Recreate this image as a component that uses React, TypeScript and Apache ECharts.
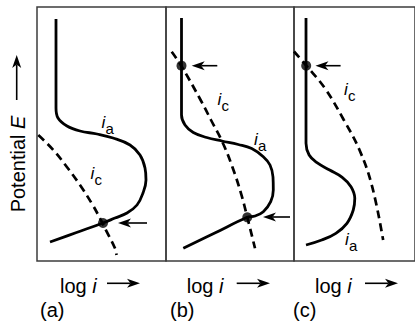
import { useEffect, useRef } from "react";
import * as echarts from "echarts";

// Data units: logI (x) and E (y) in arbitrary units per panel (x: 0..width, y: 0..254)
const aAnodic: number[][] = [[19, 242], [19, 153], [21, 143], [30, 135], [43, 130], [60, 127], [76, 123], [93, 116], [103, 106], [108, 93], [109, 81], [106, 68], [100, 56], [90, 48], [78, 43], [66, 38], [39.5, 28.5], [13, 19]];
const aCathodic: number[][] = [[1.3, 126], [16.3, 111], [29.7, 94.3], [43, 76], [54.7, 57.7], [63, 42.7], [69.7, 29.3], [78, 12.7], [79.5, 6]];
const aDots: number[][] = [[66, 38]];
const aArrows: number[][] = [[110, 38, 81, 38]];

const bAnodic: number[][] = [[15.5, 243], [15.5, 146], [19, 136], [27.3, 128.5], [40.7, 123.5], [56, 120], [72.3, 116.5], [85.7, 112.5], [97.3, 104.3], [104, 96], [107, 84], [107.3, 71], [104.7, 59.3], [97.3, 49.3], [89, 45], [81.3, 43.7], [49.3, 28.2], [17.3, 12.7]];
const bCathodic: number[][] = [[5.7, 209.3], [15.2, 195.3], [34.6, 161], [45, 141], [56.7, 118.3], [66.3, 94.3], [75, 67.7], [81.3, 43.7], [89, 12.7]];
const bDots: number[][] = [[15.5, 195.3], [81.3, 43.7]];
const bArrows: number[][] = [[51.3, 195.3, 25.7, 195.3], [124, 44, 97, 44]];

const cAnodic: number[][] = [[12.7, 243], [12.7, 117.7], [16, 106], [24.3, 98.3], [37.7, 91], [51, 83.7], [60.3, 74.3], [64.3, 62.7], [62.7, 51], [56, 37.7], [44.3, 27.7], [29.3, 21], [12.7, 16]];
const cCathodic: number[][] = [[0, 209.5], [13, 195.3], [32.7, 172.7], [52.7, 141], [69.3, 111], [82.7, 74.3], [94.3, 21]];
const cDots: number[][] = [[12.9, 195.3]];
const cArrows: number[][] = [[49.3, 195.3, 22.7, 195.3]];

const panelLabels = ["(a)", "(b)", "(c)"];
const xTitle = "log ";
const xTitleItalic = "i";
const yTitle = "Potential ";
const yTitleItalic = "E";

const FONT = "'Liberation Sans', Arial, Helvetica, sans-serif";

const panels = [
  { left: 37, width: 129, anodic: aAnodic, cathodic: aCathodic, dots: aDots, arrows: aArrows },
  { left: 166, width: 128, anodic: bAnodic, cathodic: bCathodic, dots: bDots, arrows: bArrows },
  { left: 294, width: 128, anodic: cAnodic, cathodic: cCathodic, dots: cDots, arrows: cArrows },
];

function arrowEls(x1: number, y1: number, x2: number, y2: number, lw = 1.5, L = 12, Wd = 4.5, N = 3.5) {
  const dx = x2 - x1, dy = y2 - y1;
  const len = Math.hypot(dx, dy) || 1;
  const ux = dx / len, uy = dy / len;
  const nx = -uy, ny = ux;
  const bx = x2 - ux * L, by = y2 - uy * L;
  const notch = [x2 - ux * (L - N), y2 - uy * (L - N)];
  return [
    { type: "line", shape: { x1, y1, x2: notch[0], y2: notch[1] }, style: { stroke: "#000", lineWidth: lw } },
    {
      type: "polygon",
      shape: { points: [[x2, y2], [bx + nx * Wd, by + ny * Wd], notch, [bx - nx * Wd, by - ny * Wd]] },
      style: { fill: "#000", stroke: "none" },
    },
  ];
}

function txt(x: number, baseline: number, text: string, size: number, italic: boolean) {
  return {
    type: "text",
    x,
    y: baseline - size * 0.35,
    style: {
      text,
      fontSize: size,
      fontFamily: FONT,
      fontStyle: italic ? "italic" : "normal",
      fill: "#000",
      align: "left",
      textAlign: "left",
      verticalAlign: "middle",
      textVerticalAlign: "middle",
    },
  };
}

function subLabel(x: number, baseline: number, sub: string) {
  return [txt(x, baseline, "i", 17, true), txt(x + 4, baseline + 5.7, sub, 15, false)];
}

const logX = [60, 186.7, 315];
const logArrowX = [[107, 140], [236.7, 270], [365, 398]];
const panelLabelX = [40, 170, 293];

export default function App() {
  const ref = useRef<HTMLDivElement>(null);
  useEffect(() => {
    const chart = echarts.init(ref.current!, null, { renderer: "svg" });
    const grid: any[] = [];
    const xAxis: any[] = [];
    const yAxis: any[] = [];
    const series: any[] = [];
    panels.forEach((p, i) => {
      grid.push({ left: p.left, top: 7, width: p.width, height: 254, show: true, borderColor: "#3c3c3c", borderWidth: 1.5, backgroundColor: "transparent" });
      xAxis.push({ type: "value", gridIndex: i, min: 0, max: p.width, show: false });
      yAxis.push({ type: "value", gridIndex: i, min: 0, max: 254, show: false });
      series.push({
        type: "line", xAxisIndex: i, yAxisIndex: i, data: p.anodic, smooth: 0.4, symbol: "none",
        lineStyle: { color: "#000", width: 2.8 }, z: 3,
      });
      series.push({
        type: "line", xAxisIndex: i, yAxisIndex: i, data: p.cathodic, smooth: 0.4, symbol: "none",
        lineStyle: { color: "#000", width: 2.7, type: [8, 5] }, z: 3,
      });
      series.push({
        type: "scatter", xAxisIndex: i, yAxisIndex: i, data: p.dots, symbol: "circle", symbolSize: 10,
        itemStyle: { color: "#000" }, z: 5,
      });
      series.push({
        type: "custom", xAxisIndex: i, yAxisIndex: i, data: p.arrows, encode: { x: [0, 2], y: [1, 3] }, z: 4,
        renderItem: (_params: any, api: any) => {
          const s = api.coord([api.value(0), api.value(1)]);
          const e = api.coord([api.value(2), api.value(3)]);
          return { type: "group", children: arrowEls(s[0], s[1], e[0], e[1], 1.6, 13, 4.5, 3.5) };
        },
      });
    });

    const graphic: any[] = [];
    for (let i = 0; i < 3; i++) {
      graphic.push({
        type: "text", x: logX[i], y: 286.3,
        style: {
          text: `{n|${xTitle}}{it|${xTitleItalic}}`,
          rich: {
            n: { fontSize: 20, fontFamily: FONT, fill: "#000" },
            it: { fontSize: 20, fontFamily: FONT, fontStyle: "italic", fill: "#000" },
          },
          align: "left", textAlign: "left", verticalAlign: "middle", textVerticalAlign: "middle",
        },
      });
      graphic.push(...arrowEls(logArrowX[i][0], 283.3, logArrowX[i][1], 283.3, 1.6, 13, 4.5, 3.5));
      graphic.push(txt(panelLabelX[i], 316.7, panelLabels[i], 20, false));
    }
    graphic.push({
      type: "text", x: 18, y: 164, rotation: Math.PI / 2,
      style: {
        text: `{n|${yTitle}}{it|${yTitleItalic}}`,
        rich: {
          n: { fontSize: 20, fontFamily: FONT, fill: "#000" },
          it: { fontSize: 20, fontFamily: FONT, fontStyle: "italic", fill: "#000" },
        },
        align: "center", textAlign: "center", verticalAlign: "middle", textVerticalAlign: "middle",
      },
    });
    graphic.push(...arrowEls(16.7, 100, 16.7, 55, 1.6, 13, 4.5, 3.5));
    graphic.push(...subLabel(101.5, 128.3, "a"));
    graphic.push(...subLabel(90.5, 179, "c"));
    graphic.push(...subLabel(217.5, 105, "c"));
    graphic.push(...subLabel(254, 145, "a"));
    graphic.push(...subLabel(344, 95, "c"));
    graphic.push(...subLabel(345, 245, "a"));

    chart.setOption({
      animation: false,
      backgroundColor: "#fff",
      grid,
      xAxis,
      yAxis,
      series,
      graphic: { elements: graphic },
    });
    return () => chart.dispose();
  }, []);
  return <div ref={ref} style={{ position: "absolute", left: 0, top: 0, width: 415, height: 322 }} />;
}
